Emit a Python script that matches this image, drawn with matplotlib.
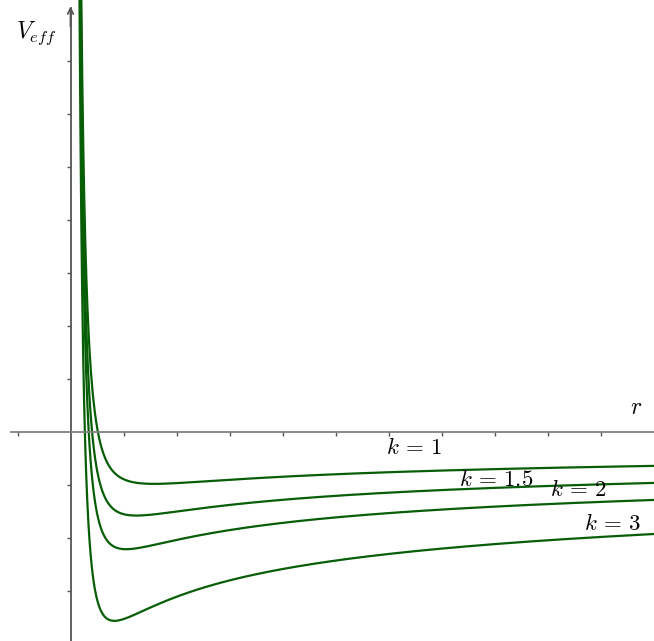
import numpy as np
import matplotlib.pyplot as plt

plt.rcParams['mathtext.fontset'] = 'cm'

# curve parameters: V = A/r^2 - B*k/r^n
k_values = [1, 1.5, 2, 3]
k_labels = ['$k\\,=\\,1$', '$k\\,=\\,1.5$', '$k\\,=\\,2$', '$k\\,=\\,3$']
label_pos = [(6.48, -0.30), (8.03, -0.89), (9.58, -1.09), (10.22, -1.72)]
A_coef = 0.43
B_coef = 1.32
n_exp = 0.3

x_ticks = [-1, 1, 2, 3, 4, 5, 6, 7, 8, 9, 10]
y_ticks = [-3, -2, -1, 1, 2, 3, 4, 5, 6, 7]

fig = plt.figure(figsize=(6.54, 6.41), dpi=100)
ax = fig.add_axes([0, 0, 1, 1])

r = np.concatenate([np.linspace(0.12, 1.0, 800), np.linspace(1.0, 11.2, 400)])
for k in k_values:
    V = A_coef / r**2 - B_coef * k / r**n_exp
    ax.plot(r, V, color='#075e07', lw=1.6, solid_capstyle='round')

for (x, y), lab in zip(label_pos, k_labels):
    ax.text(x, y, lab, fontsize=16.5, ha='center', va='center')

ax.text(-0.64, 7.53, '$V_{eff}$', fontsize=17, ha='center', va='center')
ax.text(10.68, 0.47, '$r$', fontsize=17, ha='center', va='center')

ax.set_xlim(-70.5 / 53, (654 - 70.5) / 53)
ax.set_ylim(-(641 - 432) / 53, 432 / 53)

for side in ['top', 'right']:
    ax.spines[side].set_visible(False)
ax.spines['left'].set_position('zero')
ax.spines['bottom'].set_position('zero')
ax.spines['left'].set_color('#555555')
ax.spines['bottom'].set_color('#808080')
ax.spines['left'].set_linewidth(1.3)
ax.spines['bottom'].set_linewidth(1.3)
ax.spines['bottom'].set_bounds(-1.13, 11.1)
ax.spines['left'].set_bounds(-4, 8.0)

ax.set_xticks(x_ticks)
ax.set_yticks(y_ticks)
ax.set_xticklabels([])
ax.set_yticklabels([])
ax.tick_params(axis='x', direction='out', length=3, width=1, color='#555555')
ax.tick_params(axis='y', direction='out', length=3, width=1, color='#555555')

ax.annotate('', xy=(0, 432 / 53 - 0.07), xytext=(0, 7.6),
            arrowprops=dict(arrowstyle='->', color='#555555', lw=1.3,
                            mutation_scale=10))

fig.savefig('out.png', dpi=100)
